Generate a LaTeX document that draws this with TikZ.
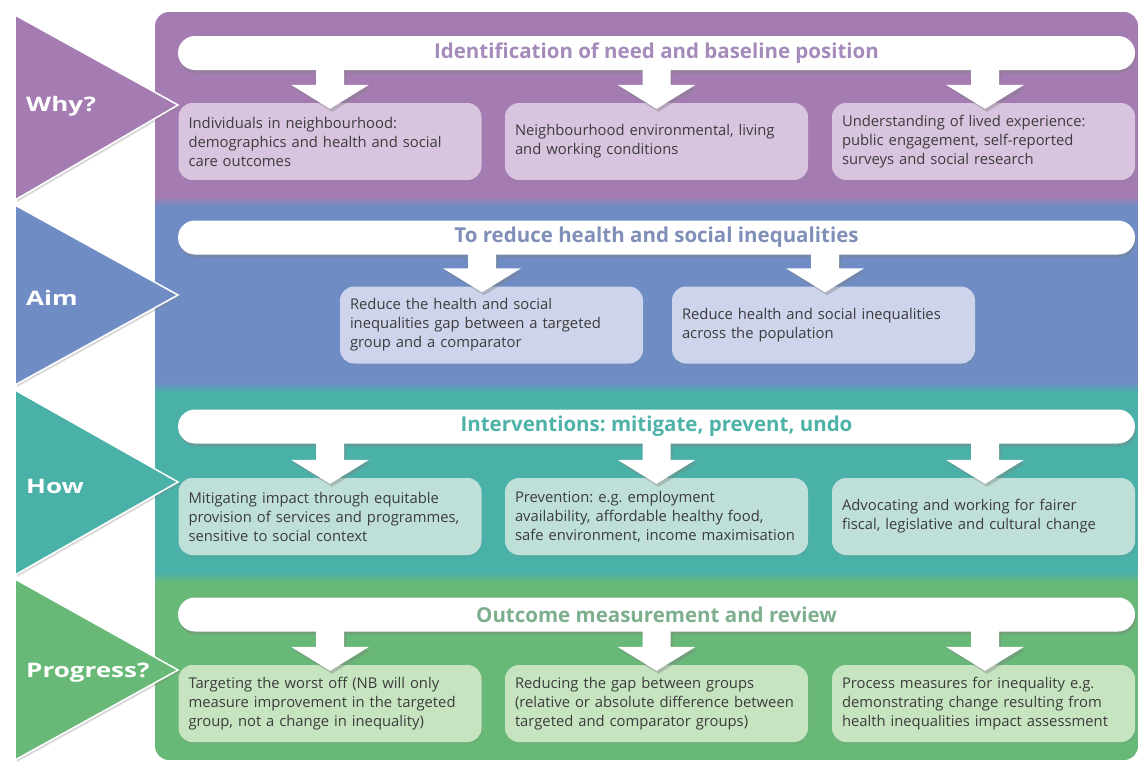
\documentclass[tikz,border=0pt]{standalone}
\usepackage{fontspec}
\setmainfont{Open Sans}
\newfontfamily\lblfont[FakeStretch=1.3]{Open Sans}
\usetikzlibrary{shadows,calc}
\frenchspacing
\definecolor{pband}{HTML}{A47CB2}
\definecolor{bband}{HTML}{6F8DC4}
\definecolor{tband}{HTML}{4AB1A8}
\definecolor{gband}{HTML}{68B877}
\definecolor{psub}{HTML}{D9C4DF}
\definecolor{bsub}{HTML}{CDD4EB}
\definecolor{tsub}{HTML}{BEE0D9}
\definecolor{gsub}{HTML}{C7E4C1}
\definecolor{ptxt}{HTML}{A58BBA}
\definecolor{btxt}{HTML}{7F8FB8}
\definecolor{ttxt}{HTML}{4DB2A8}
\definecolor{gtxt}{HTML}{7DAE8D}
\definecolor{bodytxt}{HTML}{3C3C3C}
\tikzset{
  hdr/.style={fill=white, rounded corners=17pt, minimum width=957pt, minimum height=34pt,
    inner sep=0pt, font=\bfseries\fontsize{20.5}{23}\selectfont,
    drop shadow={opacity=0.4, shadow xshift=1pt, shadow yshift=-3pt}},
  sub/.style={rounded corners=14pt, minimum height=77pt, text width=283pt, inner xsep=10pt,
    inner ysep=0pt, align=left, text=bodytxt, font=\fontsize{14.8}{19}\selectfont,
    drop shadow={opacity=0.12, shadow xshift=1pt, shadow yshift=-2pt}},
  bigarrow/.style={fill=white, drop shadow={opacity=0.4, shadow xshift=2pt, shadow yshift=-3pt}},
  tri/.style={draw=white, line width=1.5pt, line join=miter,
    drop shadow={opacity=0.3, shadow xshift=2pt, shadow yshift=-2pt}},
  lbl/.style={text=white, anchor=west, inner sep=0pt, font=\lblfont\bfseries\fontsize{20}{24}\selectfont}
}
\newcommand\blockarr[3]{%
  \fill[bigarrow] ($(#1.south -| #2.north)+(#3-14,-0.5)$) -- ($(#1.south -| #2.north)+(#3+14,-0.5)$)
    -- ($(#2.north)+(#3+14,-18)$) -- ($(#2.north)+(#3+39,-18)$) -- ($(#2.north)+(#3,6)$)
    -- ($(#2.north)+(#3-39,-18)$) -- ($(#2.north)+(#3-14,-18)$) -- cycle;}
\begin{document}
\begin{tikzpicture}[x=1pt,y=-1pt]
\useasboundingbox[fill=white] (0,0) rectangle (1140,763);
% panel bands
\begin{scope}
\clip[rounded corners=14pt] (155,12) rectangle (1138,760);
\fill[pband] (155,12) rectangle (1138,197);
\shade[top color=pband, bottom color=bband] (155,196) rectangle (1138,207);
\fill[bband] (155,206) rectangle (1138,383);
\shade[top color=bband, bottom color=tband] (155,382) rectangle (1138,393);
\fill[tband] (155,392) rectangle (1138,573);
\shade[top color=tband, bottom color=gband] (155,572) rectangle (1138,583);
\fill[gband] (155,582) rectangle (1138,760);
\end{scope}
% headers
\node[hdr, text=ptxt] (h1) at (656.5,53) {Identification of need and baseline position};
\node[hdr, text=btxt] (h2) at (656.5,237.5) {To reduce health and social inequalities};
\node[hdr, text=ttxt] (h3) at (656.5,426.5) {Interventions: mitigate, prevent, undo};
\node[hdr, text=gtxt] (h4) at (656.5,614.5) {Outcome measurement and review};
% sub boxes
\node[sub, fill=psub] (p1) at (330,141.5) {Individuals in neighbourhood:\\demographics and health and social\\care outcomes};
\node[sub, fill=psub] (p2) at (656.5,141.5) {Neighbourhood environmental, living\\and working conditions};
\node[sub, fill=psub] (p3) at (983.5,141.5) {Understanding of lived experience:\\public engagement, self-reported\\surveys and social research};
\node[sub, fill=bsub] (b1) at (491.5,325) {Reduce the health and social\\inequalities gap between a targeted\\group and a comparator};
\node[sub, fill=bsub] (b2) at (823.5,325) {Reduce health and social inequalities\\across the population};
\node[sub, fill=tsub] (t1) at (330,516.5) {Mitigating impact through equitable\\provision of services and programmes,\\sensitive to social context};
\node[sub, fill=tsub] (t2) at (656.5,516.5) {Prevention: e.g. employment\\availability, affordable healthy food,\\safe environment, income maximisation};
\node[sub, fill=tsub] (t3) at (983.5,516.5) {Advocating and working for fairer\\fiscal, legislative and cultural change};
\node[sub, fill=gsub] (g1) at (330,703.5) {Targeting the worst off (NB will only\\measure improvement in the targeted\\group, not a change in inequality)};
\node[sub, fill=gsub] (g2) at (656.5,703.5) {Reducing the gap between groups\\(relative or absolute difference between\\targeted and comparator groups)};
\node[sub, fill=gsub] (g3) at (983.5,703.5) {Process measures for inequality e.g.\\demonstrating change resulting from\\health inequalities impact assessment};
% arrows
\blockarr{h1}{p1}{0}
\blockarr{h1}{p2}{0}
\blockarr{h1}{p3}{1.5}
\blockarr{h2}{b1}{-9.5}
\blockarr{h2}{b2}{1.5}
\blockarr{h3}{t1}{0}
\blockarr{h3}{t2}{0}
\blockarr{h3}{t3}{1.5}
\blockarr{h4}{g1}{0}
\blockarr{h4}{g2}{0}
\blockarr{h4}{g3}{1.5}
% side triangles
\filldraw[tri, fill=pband] (15,15) -- (178,105) -- (15,200) -- cycle;
\filldraw[tri, fill=bband] (15,205) -- (178,295) -- (15,385) -- cycle;
\filldraw[tri, fill=tband] (15,390) -- (178,482) -- (15,575) -- cycle;
\filldraw[tri, fill=gband] (15,579) -- (178,670) -- (15,760) -- cycle;
\node[lbl] (l1) at (26,106) {Why?};
\node[lbl] (l2) at (26,298) {Aim};
\node[lbl] (l3) at (26,486) {How};
\node[lbl] (l4) at (26,673) {Progress?};
\end{tikzpicture}
\end{document}
